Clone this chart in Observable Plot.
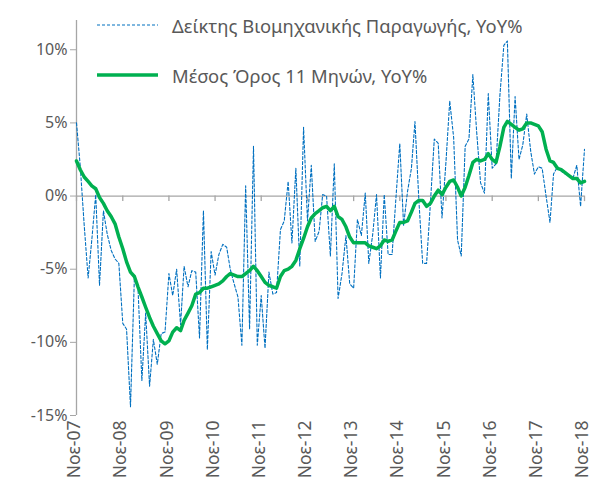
<!DOCTYPE html>
<html><head><meta charset="utf-8">
<script src="https://cdn.jsdelivr.net/npm/d3@7"></script>
<script src="https://cdn.jsdelivr.net/npm/@observablehq/plot@0.6"></script>
<style>
body{margin:0;background:#fff;}
#wrap{position:relative;width:593px;height:490px;font-family:"Noto Sans",sans-serif;}
.leg{position:absolute;left:97px;height:24px;display:flex;align-items:center;font-size:18.4px;color:#595959;white-space:nowrap;}
.leg svg{margin-right:14px;}
</style></head><body><div id="wrap"></div>
<script>
// Monthly categories start at Nov 2007
const firstYear = 2007, firstMonth = 10;
const seriesNames = ["Δείκτης Βιομηχανικής Παραγωγής, YoY%", "Μέσος Όρος 11 Μηνών, YoY%"];
const ipi = [
  5.0, 2.0, -2.0, -5.6, -3.0, 0.1, -6.1, -1.0, -2.6, -3.7, -4.3, -4.6,
  -8.7, -9.1, -14.4, -5.5, -6.2, -12.6, -8.0, -13.0, -9.8, -11.5, -9.4, -9.3,
  -5.3, -6.8, -5.0, -8.8, -4.8, -6.2, -5.1, -5.2, -9.7, -1.0, -10.5, -3.8,
  -5.4, -4.0, -3.3, -3.5, -5.0, -6.0, -6.9, -10.2, 0.7, -9.1, 3.4, -10.2,
  -6.8, -10.4, -5.2, -6.7, -6.6, -2.3, -1.7, 1.0, -3.2, 1.9, -4.8, 4.7,
  -1.7, 2.1, -3.1, -2.4, 0.1, 0.0, -4.1, 2.2, -7.0, -5.3, -2.7, -6.0,
  -6.3, -1.6, -2.7, 0.2, -4.6, -2.6, 0.1, -5.6, 0.1, -4.0, -4.0, -0.2,
  3.6, -2.0, 0.3, 1.9, 5.1, -0.3, -4.6, -4.6, -0.5, 3.9, 3.6, -1.5,
  2.3, 6.5, 4.0, -3.0, -4.1, 3.4, 3.9, 8.3, 4.4, 0.9, 0.2, 7.0,
  1.9, 2.2, 6.9, 10.3, 10.6, 1.2, 6.8, 2.5, 3.5, 5.6, 3.1, 1.5,
  2.0, 1.9, 0.0, -1.8, 1.5, 2.0, 1.7, 1.5, 1.4, 1.2, 2.1, -0.7, 3.2
];
const ma11 = [
  2.4, 1.8, 1.3, 1.0, 0.7, 0.5, -0.1, -0.5, -1.0, -1.4, -1.9, -2.8,
  -3.6, -4.5, -5.2, -5.5, -6.2, -6.9, -7.6, -8.3, -8.9, -9.4, -9.9, -10.1,
  -9.9, -9.3, -9.0, -9.2, -8.5, -8.0, -7.5, -6.7, -6.6, -6.3, -6.3, -6.2,
  -6.1, -6.0, -5.8, -5.5, -5.3, -5.4, -5.5, -5.5, -5.3, -5.1, -4.8, -5.1,
  -5.5, -5.9, -6.1, -6.2, -6.3, -5.5, -5.1, -5.0, -4.8, -4.4, -3.6, -2.9,
  -2.1, -1.5, -1.2, -1.0, -0.8, -0.7, -1.0, -0.7, -1.4, -1.6, -2.1, -2.8,
  -3.2, -3.2, -3.2, -3.2, -3.4, -3.5, -3.6, -3.4, -3.0, -3.1, -3.0, -2.4,
  -1.8, -1.8, -1.7, -1.1, -0.5, -0.3, -0.3, -0.7, -0.5, 0.0, 0.4, 0.1,
  0.6, 1.0, 1.1, 0.6, 0.0, 0.6, 1.4, 2.3, 2.5, 2.4, 2.5, 2.9,
  2.5, 2.3, 3.4, 4.7, 5.1, 4.9, 4.7, 4.5, 4.6, 5.0, 5.0, 4.9,
  4.8, 4.4, 3.2, 2.4, 2.3, 1.9, 1.8, 1.6, 1.4, 1.2, 1.2, 0.9, 1.0
];
const xTickLabels = ["Νοε-07","Νοε-08","Νοε-09","Νοε-10","Νοε-11","Νοε-12","Νοε-13","Νοε-14","Νοε-15","Νοε-16","Νοε-17","Νοε-18"];
const yTicks = [-15, -10, -5, 0, 5, 10];

const dates = ipi.map((_, i) => new Date(Date.UTC(firstYear, firstMonth + i, 1)));
const data = ipi.map((v, i) => ({date: dates[i], ipi: v, ma: ma11[i]}));
const tickDates = xTickLabels.map((_, k) => new Date(Date.UTC(firstYear + k, firstMonth, 1)));
const labelOf = d => xTickLabels[d.getUTCFullYear() - firstYear];

const axisGray = "#a6a6a6";
const textGray = "#595959";
const font = '"Noto Sans", sans-serif';

const chart = Plot.plot({
  width: 593, height: 490,
  marginLeft: 76, marginRight: 9, marginTop: 20, marginBottom: 75,
  style: {fontFamily: font, fontSize: "16px", color: textGray, background: "#fff", overflow: "visible"},
  x: {type: "utc", domain: [dates[0], dates[dates.length - 1]]},
  y: {domain: [-15, 12]},
  marks: [
    Plot.ruleY([0], {stroke: axisGray, strokeWidth: 1.3}),
    Plot.ruleX(tickDates, {y1: 0, y2: -0.38, stroke: axisGray, strokeWidth: 1.3}),
    Plot.ruleX([dates[0]], {y1: -15, y2: 12, stroke: axisGray, strokeWidth: 1.3}),
    Plot.axisY({ticks: yTicks, tickFormat: d => d + "%", tickSize: 6, tickPadding: 3, stroke: axisGray, fill: textGray, fontSize: 16, label: null}),
    Plot.axisX({ticks: tickDates, tickFormat: labelOf, tickRotate: -90, tickSize: 0, tickPadding: 5, anchor: "bottom", fill: textGray, fontSize: 17.5, dx: -2, label: null}),
    Plot.line(data, {x: "date", y: "ipi", stroke: "#0070C0", strokeWidth: 1.1, strokeDasharray: "3,2"}),
    Plot.line(data, {x: "date", y: "ma", stroke: "#00B050", strokeWidth: 3.5})
  ]
});
const wrap = document.getElementById("wrap");
wrap.appendChild(chart);

function legendItem(top, name, stroke, width, dash) {
  const div = document.createElement("div");
  div.className = "leg";
  div.style.top = top + "px";
  div.innerHTML = `<svg width="61" height="8"><line x1="0" x2="61" y1="4" y2="4" stroke="${stroke}" stroke-width="${width}" ${dash ? `stroke-dasharray="${dash}"` : ""}/></svg><span>${name}</span>`;
  wrap.appendChild(div);
}
legendItem(13, seriesNames[0], "#0070C0", 1.2, "3,2");
legendItem(63, seriesNames[1], "#00B050", 3.5, null);
</script></body></html>
